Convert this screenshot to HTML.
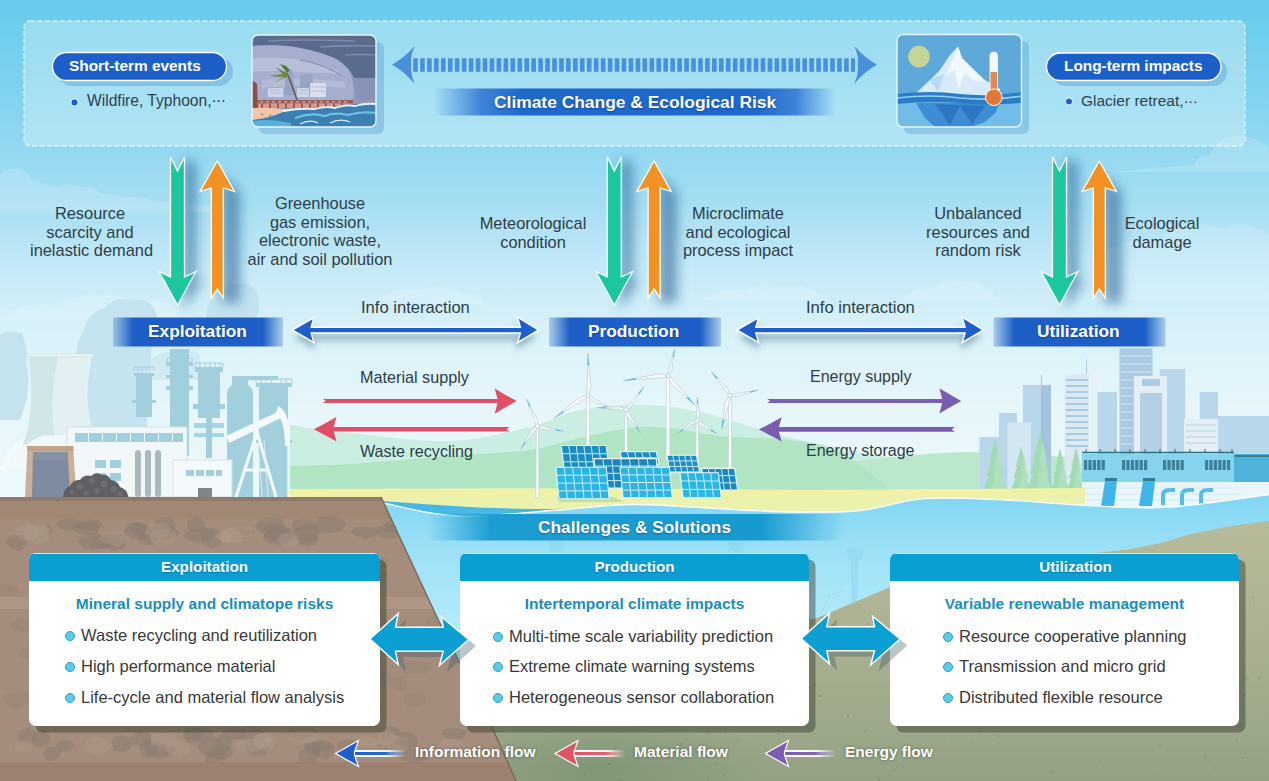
<!DOCTYPE html>
<html><head><meta charset="utf-8">
<style>
*{margin:0;padding:0;box-sizing:border-box}
html,body{width:1269px;height:781px;overflow:hidden;background:#e9f7fb}
body{font-family:"Liberation Sans",sans-serif;position:relative}
#bg{position:absolute;left:0;top:0}
.t{position:absolute;white-space:nowrap;line-height:1}
.lbl{position:absolute;font-size:16.4px;color:#2e3e48;text-align:center;line-height:18.5px;white-space:nowrap}
.pill{position:absolute;color:#fff;font-weight:bold;font-size:15.4px;white-space:nowrap}
.ban{position:absolute;color:#fff;font-weight:bold;font-size:17.3px;white-space:nowrap;text-shadow:0 1px 2px rgba(0,40,90,.45)}
.card{position:absolute;top:553px;width:351px;height:173px;background:#fff;border-radius:7px;overflow:hidden;box-shadow:6.5px 6.5px 0 rgba(45,55,40,.44)}
.card .hd{height:27.5px;background:#0a9fd3;box-shadow:inset 0 1px 0 rgba(220,246,252,.9);color:#fff;font-weight:bold;font-size:15.2px;text-align:center;line-height:27.5px;text-shadow:0 1px 1px rgba(0,50,90,.35)}
.card .sub{position:absolute;left:0;width:100%;top:42.3px;text-align:center;color:#1b8eba;font-weight:bold;font-size:15.5px}
.card .li{position:absolute;font-size:16.5px;color:#383838;white-space:nowrap}
.card .li:before{content:"";position:absolute;left:-16px;top:5px;width:8px;height:8px;border-radius:50%;background:#5dcbea;border:1px solid #2a9cc4}
.leg{position:absolute;top:743px;color:#fff;font-weight:bold;font-size:15.5px;white-space:nowrap;text-shadow:0 0 3px rgba(40,40,30,.6)}
</style></head>
<body>
<svg id="bg" width="1269" height="781" viewBox="0 0 1269 781">
<defs>
 <linearGradient id="sky" x1="0" y1="0" x2="0" y2="1">
  <stop offset="0" stop-color="#66cbec"/>
  <stop offset="0.19" stop-color="#92d8f1"/>
  <stop offset="0.26" stop-color="#a6def3"/>
  <stop offset="0.34" stop-color="#c3e9f7"/>
  <stop offset="0.42" stop-color="#d8f1f9"/>
  <stop offset="0.52" stop-color="#e6f6fb"/>
  <stop offset="0.65" stop-color="#eef9fc"/>
  <stop offset="1" stop-color="#eef9fc"/>
 </linearGradient>
 <linearGradient id="ban" x1="0" y1="0" x2="1" y2="0">
  <stop offset="0" stop-color="#2a78d4" stop-opacity="0"/>
  <stop offset="0.12" stop-color="#2a72d2" stop-opacity="0.85"/>
  <stop offset="0.22" stop-color="#1f68cc"/>
  <stop offset="0.8" stop-color="#1f68cc"/>
  <stop offset="0.9" stop-color="#2a72d2" stop-opacity="0.85"/>
  <stop offset="1" stop-color="#2a78d4" stop-opacity="0"/>
 </linearGradient>
 <linearGradient id="ban2" x1="0" y1="0" x2="1" y2="0">
  <stop offset="0" stop-color="#1f62c6" stop-opacity="0.25"/>
  <stop offset="0.12" stop-color="#1d5fc6"/>
  <stop offset="0.88" stop-color="#1d5fc6"/>
  <stop offset="1" stop-color="#1f62c6" stop-opacity="0.25"/>
 </linearGradient>
 <linearGradient id="chal" x1="0" y1="0" x2="1" y2="0">
  <stop offset="0" stop-color="#179ad0" stop-opacity="0"/>
  <stop offset="0.15" stop-color="#179ad0" stop-opacity="0.95"/>
  <stop offset="0.8" stop-color="#179ad0"/>
  <stop offset="1" stop-color="#179ad0" stop-opacity="0"/>
 </linearGradient>
 <linearGradient id="water" x1="0" y1="0" x2="0" y2="1">
  <stop offset="0" stop-color="#80d6f3"/>
  <stop offset="0.2" stop-color="#9de1f7"/>
  <stop offset="0.45" stop-color="#b2eaf9"/>
  <stop offset="1" stop-color="#c6f0fb"/>
 </linearGradient>
 <linearGradient id="sand" x1="0" y1="0" x2="0" y2="1">
  <stop offset="0" stop-color="#b8bb9a"/>
  <stop offset="0.35" stop-color="#aeb393"/>
  <stop offset="0.7" stop-color="#a0ab8c"/>
  <stop offset="1" stop-color="#93a284"/>
 </linearGradient>
 <filter id="sh" x="-50%" y="-30%" width="200%" height="160%"><feGaussianBlur stdDeviation="3"/></filter>
 <filter id="sh2" x="-100%" y="-30%" width="300%" height="160%"><feGaussianBlur stdDeviation="6"/></filter>
</defs>
<rect width="1269" height="781" fill="url(#sky)"/>

<!-- top dashed box -->
<rect x="24" y="21" width="1221" height="125" rx="6" fill="#ffffff" fill-opacity="0.3" stroke="#ffffff" stroke-opacity="0.7" stroke-width="1.3" stroke-dasharray="5 2.5"/>

<!-- pills -->
<rect x="58" y="57" width="175" height="29" rx="14.5" fill="#5a9fcf" fill-opacity="0.45"/>
<rect x="52.5" y="52.5" width="174" height="28" rx="14" fill="#1d5fc9" stroke="#fff" stroke-width="1.3"/>
<circle cx="74.5" cy="102.5" r="3.6" fill="#1d5fc9" stroke="#fff" stroke-width="0.9"/>
<rect x="1052" y="58" width="175" height="28" rx="14" fill="#5a9fcf" fill-opacity="0.45"/>
<rect x="1046.5" y="53" width="174.5" height="27.5" rx="13.75" fill="#1d5fc9" stroke="#fff" stroke-width="1.3"/>
<circle cx="1069" cy="101.5" r="3.6" fill="#1d5fc9" stroke="#fff" stroke-width="0.9"/>

<!-- typhoon image -->
<rect x="259" y="42" width="125" height="92" rx="6" fill="#5a9fcf" fill-opacity="0.4"/>
<clipPath id="cpT"><rect x="252" y="35" width="124" height="92" rx="6"/></clipPath>
<g clip-path="url(#cpT)">
 <rect x="252" y="35" width="124" height="92" fill="#5b6b8d"/>
 <path d="M268 41 Q 300 39 355 41 M 320 47 Q 345 45 375 46 M 345 55 Q 360 54 376 55" stroke="#7d8bab" stroke-width="1.6" fill="none"/>
 <path d="M252 46 Q 280 44 300 48 Q 325 53 338 60 Q 350 68 354 78 L 376 78 L376 112 L252 112Z" fill="#8d98b9"/>
 <path d="M252 46 Q 280 44 300 48 Q 325 53 338 60 Q 350 68 352 78 Q 356 90 352 104 L252 104Z" fill="#a5aecd"/>
 <path d="M252 58 Q 290 56 320 64 Q 335 68 340 74 L 300 72 Q 270 70 252 72Z" fill="#b6bed9"/>
 <path d="M262 80 Q 300 76 345 82 L 345 88 Q 300 84 262 88Z" fill="#b3bbd7"/>
 <path d="M300 60 Q 325 64 342 76" stroke="#8f9abb" stroke-width="1.5" fill="none"/>
 <path d="M285 72 L 292 70 L 296 95 L 285 95Z M 300 76 L 312 74 L 314 95 L 300 95Z" fill="#97a3c4"/>
 <rect x="268" y="88" width="15" height="9" fill="#cfd6ea"/>
 <rect x="297" y="88" width="12" height="9" fill="#cfd6ea"/>
 <rect x="310" y="83" width="16" height="14" fill="#d9dfef"/>
 <path d="M270 90 h12 M270 93 h12 M298 90 h10 M298 93 h10 M311 87 h14 M311 91 h14" stroke="#aab4d2" stroke-width="0.8"/>
 <path d="M252 80 L257 84 L258 110 L252 110Z" fill="#8a4f45"/>
 <path d="M287 73 Q 292 85 298 103" stroke="#6a5650" stroke-width="1.6" fill="none"/>
 <path d="M287 73 L275 67 L283 74 L269 76 L284 77 L273 83 L289 76Z" fill="#6b8a3a"/>
 <path d="M287 73 L280 64 L286 66 L290 70Z" fill="#5a7a30"/>
 <rect x="258" y="100" width="95" height="3.6" fill="#9b5b56"/>
 <path d="M260 101.8 h3 M266 101.8 h3 M272 101.8 h3 M278 101.8 h3 M284 101.8 h3 M290 101.8 h3 M296 101.8 h3 M302 101.8 h3 M308 101.8 h3 M314 101.8 h3 M320 101.8 h3 M326 101.8 h3 M332 101.8 h3 M338 101.8 h3 M344 101.8 h3" stroke="#c99d96" stroke-width="1.4"/>
 <rect x="258" y="103.6" width="95" height="4.6" fill="#d39b8d"/>
 <path d="M262 103.6 v4.6 M270 103.6 v4.6 M278 103.6 v4.6 M286 103.6 v4.6 M294 103.6 v4.6 M302 103.6 v4.6 M310 103.6 v4.6 M318 103.6 v4.6 M326 103.6 v4.6 M334 103.6 v4.6 M342 103.6 v4.6 M350 103.6 v4.6" stroke="#8a4a45" stroke-width="1.6"/>
 <path d="M252 108 Q 270 107 292 110 L 296 118 Q 275 121 252 121Z" fill="#f2c6a8"/>
 <path d="M262 113 a1.5 1.5 0 1 0 0.1 0 M 270 114 a1.5 1.5 0 1 0 0.1 0" fill="#9fb48e"/>
 <path d="M283 112 Q 305 106 330 108 Q 350 103 376 104 L376 127 L252 127 L252 120 Q 270 118 283 112Z" fill="#3b7fb3"/>
 <path d="M283 111 Q 300 108 315 109 Q 325 106 335 108 Q 345 104 355 106 Q 365 103 376 104" stroke="#eaf5fb" stroke-width="1.8" fill="none"/>
 <path d="M295 118 Q 310 112 325 116 Q 335 112 348 115 Q 360 111 376 113" stroke="#6cc2e2" stroke-width="2.2" fill="none"/>
 <path d="M300 124 Q 310 119 318 123 M 330 123 Q 340 118 350 122" stroke="#dff1f9" stroke-width="1.2" fill="none"/>
 <path d="M252 121 Q 270 118 290 123 L 292 127 L252 127Z" fill="#5bb0d8"/>
 <path d="M352 78 L 376 78 L 376 100 L 358 100Z" fill="#8893b5"/>
</g>
<rect x="252" y="35" width="124" height="92" rx="6" fill="none" stroke="#e8f7fd" stroke-width="1.4"/>

<!-- iceberg image -->
<rect x="904" y="41" width="125" height="93" rx="6" fill="#5a9fcf" fill-opacity="0.4"/>
<clipPath id="cpI"><rect x="897" y="34.5" width="124.5" height="92.5" rx="6"/></clipPath>
<g clip-path="url(#cpI)">
 <rect x="897" y="34" width="125" height="93" fill="#5ea9d9"/>
 <circle cx="919" cy="56.6" r="10.8" fill="#c8d398"/>
 <path d="M915 94 L 930 80 L 940 70 L 950 55 L 958 46.5 L 962 58 L 972 68 L 985 80 L 1000 89 L 1000 96 L 915 96Z" fill="#d8ebfa"/>
 <path d="M958 46.5 L 952 62 L 946 75 L 955 70 L 958 90 L 965 72 L 972 80 L 985 82 L 972 68 L 962 58Z" fill="#f2f9fe"/>
 <path d="M930 80 L 938 92 L 944 74Z" fill="#b9d8f2"/>
 <rect x="897" y="103" width="125" height="24" fill="#72bde8"/>
 <path d="M916 103 L 1000 103 L 995 113 L 985 122 L 970 127 L 935 127 L 925 118Z" fill="#3c8dd4"/>
 <path d="M935 104 L 950 125 L 960 106 L 972 124 L 985 106Z" fill="#2c76c2"/>
 <path d="M897 94 Q 930 90 960 94 Q 990 97 1022 92 L1022 103 Q 990 106 960 103 Q 930 100 897 104Z" fill="#2a7cc8"/>
 <path d="M897 98 Q 930 94 960 98 Q 990 101 1022 96" stroke="#8fd2f2" stroke-width="1.6" fill="none"/>
 <rect x="990" y="52" width="7.5" height="45" rx="3.75" fill="#f4f8fb" stroke="#fff" stroke-width="0.8"/>
 <rect x="990.5" y="72" width="6.5" height="24" fill="#e08a52"/>
 <circle cx="993.8" cy="97.3" r="8.3" fill="#e0783a" stroke="#fff" stroke-width="1"/>
</g>
<rect x="897" y="34.5" width="124.5" height="92.5" rx="6" fill="none" stroke="#e8f7fd" stroke-width="1.4"/>

<!-- dotted arrow -->
<line x1="413.2" y1="65" x2="855" y2="65" stroke="#4a90d9" stroke-width="13.4" stroke-dasharray="4.6 2.35"/>
<path d="M392 64.7 Q 404 58 414.8 46 Q 410 56 411.3 64.7 Q 410 73 414.8 84 Q 404 71 392 64.7Z" fill="#4a90d9"/>
<path d="M877 64.7 Q 865 58 854.2 46 Q 859 56 857.7 64.7 Q 859 73 854.2 84 Q 865 71 877 64.7Z" fill="#4a90d9"/>

<!-- climate banner -->
<rect x="433" y="88.5" width="403" height="27" fill="url(#ban)"/>

<!-- clouds -->
<g fill="#ffffff" fill-opacity="0.16">
 <path d="M0 212 L0 175 Q 4 168 15 169 Q 28 168 31 179 Q 42 183 55 187 Q 70 183 82 187 Q 95 186 101 194 Q 115 193 126 197 Q 142 196 152 201 Q 175 203 210 206 L 210 212 Z"/>
 <path d="M1115 172 Q 1150 168 1195 165 Q 1196 155 1210 155 Q 1215 140 1232 136 Q 1250 134 1262 143 Q 1269 143 1269 150 L1269 172 Z"/>
 <path d="M700 300 Q 720 288 745 290 Q 760 280 780 286 Q 800 282 815 292 L 830 300Z M 900 300 Q 915 285 935 288 Q 945 276 962 282 Q 985 280 995 296 L 1000 300Z"/>
 <path d="M1100 260 Q 1120 235 1160 240 Q 1180 215 1220 228 Q 1250 220 1269 235 L1269 300 L1100 300Z"/>
 <path d="M0 320 Q 20 300 60 305 Q 90 285 130 300 Q 170 295 190 320 Z"/>
 <path d="M380 300 Q 395 285 420 290 Q 440 280 460 292 Q 480 292 485 305Z"/>
</g>
<g fill="#bfe1ed" fill-opacity="0.85">
 <path d="M72 445 Q 70 400 76 370 Q 74 345 84 330 Q 88 312 104 308 Q 116 296 134 300 Q 152 298 156 314 Q 162 330 152 345 Q 150 370 146 400 L 148 445Z"/>
 <path d="M0 335 Q 12 328 22 334 Q 28 345 26 362 Q 30 380 27 398 Q 24 410 20 420 L0 420Z"/>
 <path d="M206 330 Q 204 306 214 296 Q 222 282 240 284 Q 256 282 258 298 Q 262 312 252 322 Q 245 332 230 332Z"/>
 <path d="M150 360 Q 160 350 175 352 Q 190 345 200 355 L 200 380 L150 380Z" fill-opacity="0.5"/>
</g>
<g fill="#ffffff" fill-opacity="0.5">
 <path d="M0 470 Q 10 440 30 436 Q 45 425 65 430 Q 85 425 100 438 Q 115 445 118 470Z"/>
</g>
<!-- hills -->
<path d="M290 425 C300.0 426.3 323.3 430.3 350 433 C376.7 435.7 420.0 442.0 450 441 C480.0 440.0 508.3 432.2 530 427 C551.7 421.8 561.7 413.7 580 410 C598.3 406.3 620.0 404.7 640 405 C660.0 405.3 673.3 406.2 700 412 C726.7 417.8 766.7 432.3 800 440 C833.3 447.7 866.7 455.0 900 458 C933.3 461.0 966.7 458.0 1000 458 C1033.3 458.0 1083.3 458.0 1100 458 L1100 500 L290 500Z" fill="#cbeee3"/>
<path d="M850 462 Q 900 455 961 452 Q 1000 453 1090 458 L1090 498 L850 498Z" fill="#b9e8ca"/>
<path d="M290 466 C300.0 465.7 323.3 465.7 350 464 C376.7 462.3 420.0 458.3 450 456 C480.0 453.7 508.3 453.0 530 450 C551.7 447.0 563.3 441.7 580 438 C596.7 434.3 615.0 429.7 630 428 C645.0 426.3 655.0 426.7 670 428 C685.0 429.3 700.0 434.0 720 436 C740.0 438.0 770.0 437.3 790 440 C810.0 442.7 822.8 443.3 840 452 C857.2 460.7 884.2 485.3 893 492 L290 492Z" fill="#b0e4c2"/>
<path d="M290 480 Q 450 476 600 470 L 600 492 L290 492Z" fill="#b3e4c4" fill-opacity="0.6"/>
<path d="M1180 455 Q 1230 435 1269 430 L1269 500 L1180 500Z" fill="#b5e5c3"/>
<!-- city -->
<g fill="#b9d7ea">
 <rect x="979.5" y="437" width="30" height="60"/>
 <rect x="999" y="413" width="18" height="84"/>
 <rect x="1023" y="385" width="28" height="112"/>
 <rect x="1096" y="392" width="21" height="105"/>
 <rect x="1159.7" y="369" width="25.5" height="128"/>
 <rect x="1199.8" y="392" width="18.2" height="105"/>
 <rect x="1218" y="416" width="51" height="81"/>
</g>
<rect x="1041" y="375" width="1" height="10" fill="#a8c8dc"/>
<rect x="1041" y="385" width="10" height="112" fill="#a2c4dc"/>
<rect x="1007.5" y="422.5" width="23" height="75" fill="#d4e6f1"/>
<rect x="1064.7" y="374" width="24.3" height="123" fill="#dce9f3"/>
<path d="M1066 380 h22 M1066 386 h22 M1066 392 h22 M1066 398 h22 M1066 404 h22 M1066 410 h22 M1066 416 h22 M1066 422 h22 M1066 428 h22 M1066 434 h22 M1066 440 h22 M1066 446 h22" stroke="#a9cbe2" stroke-width="2.2"/>
<rect x="1086" y="359" width="1" height="15" fill="#b0cde0"/>
<rect x="1089" y="369" width="8.6" height="128" fill="#e6f0f7"/>
<rect x="1119.5" y="348.3" width="33" height="149" fill="#aacbe2"/>
<path d="M1121 356 h30 M1121 364 h30 M1121 372 h30 M1121 380 h30 M1121 388 h30 M1121 396 h30 M1121 404 h30 M1121 412 h30 M1121 420 h30 M1121 428 h30 M1121 436 h30 M1121 444 h30" stroke="#c3dbec" stroke-width="1.6"/>
<rect x="1134" y="376" width="33" height="121" fill="#e3eef6"/>
<rect x="1140" y="393" width="22" height="104" fill="#b2cfe4"/>
<rect x="1142" y="379" width="18" height="7" fill="#aacbe2"/>
<rect x="1184" y="419" width="34" height="78" fill="#e3eef6"/>
<path d="M1186 425 h30 M1186 431 h30 M1186 437 h30 M1186 443 h30" stroke="#c9dcea" stroke-width="1.5"/>

<!-- trees -->
<path d="M995 438.0 L1000.4 462.3 L989.6 462.3Z M995 448.8 L1003.4 475.8 L986.6 475.8Z M995 460.7 L1007.0 492.0 L983.0 492.0Z M1021 446.0 L1026.0 466.7 L1016.0 466.7Z M1021 455.2 L1028.7 478.2 L1013.3 478.2Z M1021 465.3 L1032.0 492.0 L1010.0 492.0Z M1040 432.0 L1046.3 459.0 L1033.7 459.0Z M1040 444.0 L1049.8 474.0 L1030.2 474.0Z M1040 457.2 L1054.0 492.0 L1026.0 492.0Z M1060 448.0 L1064.5 467.8 L1055.5 467.8Z M1060 456.8 L1067.0 478.8 L1053.0 478.8Z M1060 466.5 L1070.0 492.0 L1050.0 492.0Z M1076 447.0 L1080.5 467.2 L1071.5 467.2Z M1076 456.0 L1083.0 478.5 L1069.0 478.5Z M1076 465.9 L1086.0 492.0 L1066.0 492.0Z" fill="#a2dab3"/>
<path d="M998 446.0 L1001.2 466.7 L994.8 466.7Z M998 455.2 L1003.0 478.2 L993.0 478.2Z M998 465.3 L1005.2 492.0 L990.8 492.0Z M1024 454.0 L1027.0 471.1 L1021.0 471.1Z M1024 461.6 L1028.6 480.6 L1019.4 480.6Z M1024 470.0 L1030.6 492.0 L1017.4 492.0Z M1043 440.0 L1046.8 463.4 L1039.2 463.4Z M1043 450.4 L1048.9 476.4 L1037.1 476.4Z M1043 461.8 L1051.4 492.0 L1034.6 492.0Z M1063 456.0 L1065.7 472.2 L1060.3 472.2Z M1063 463.2 L1067.2 481.2 L1058.8 481.2Z M1063 471.1 L1069.0 492.0 L1057.0 492.0Z M1079 455.0 L1081.7 471.6 L1076.3 471.6Z M1079 462.4 L1083.2 480.9 L1074.8 480.9Z M1079 470.5 L1085.0 492.0 L1073.0 492.0Z" fill="#b4e3c3" fill-opacity="0.7"/>

<!-- dam -->
<rect x="1082" y="454" width="187" height="28" fill="#86d3ee"/>
<rect x="1234" y="454" width="35" height="28" fill="#4eb2db"/>
<path d="M1082 452.5 H1234 M1235 456 H1269" stroke="#2d6f7a" stroke-width="1.4"/>
<path d="M1086 449 v4 M1100 449 v4 M1115 449 v4 M1130 449 v4 M1145 449 v4 M1160 449 v4 M1175 449 v4 M1190 449 v4 M1205 449 v4 M1220 449 v4 M1232 449 v4" stroke="#2d6f7a" stroke-width="1"/>
<g fill="#3e7f9a"><rect x="1084.0" y="460" width="3.2" height="10"/><rect x="1088.4" y="460" width="3.2" height="10"/><rect x="1092.8" y="460" width="3.2" height="10"/><rect x="1097.2" y="460" width="3.2" height="10"/><rect x="1101.6" y="460" width="3.2" height="10"/><rect x="1122.0" y="460" width="3.2" height="10"/><rect x="1126.4" y="460" width="3.2" height="10"/><rect x="1130.8" y="460" width="3.2" height="10"/><rect x="1135.2" y="460" width="3.2" height="10"/><rect x="1139.6" y="460" width="3.2" height="10"/><rect x="1144.0" y="460" width="3.2" height="10"/><rect x="1163.0" y="460" width="3.2" height="10"/><rect x="1167.4" y="460" width="3.2" height="10"/><rect x="1171.8" y="460" width="3.2" height="10"/><rect x="1176.2" y="460" width="3.2" height="10"/><rect x="1180.6" y="460" width="3.2" height="10"/><rect x="1205.0" y="460" width="3.2" height="10"/><rect x="1209.4" y="460" width="3.2" height="10"/><rect x="1213.8" y="460" width="3.2" height="10"/><rect x="1218.2" y="460" width="3.2" height="10"/><rect x="1222.6" y="460" width="3.2" height="10"/><rect x="1227.0" y="460" width="3.2" height="10"/></g>
<path d="M1082 482 H1269 V506 Q 1180 508 1082 506Z" fill="#e9f6fb"/>
<path d="M1082 488 H1240 M1082 494 H1240 M1082 500 H1240" stroke="#cde6f0" stroke-width="0.8"/>
<rect x="1105" y="478" width="12" height="3" fill="#2d7c98"/><rect x="1143" y="478" width="12" height="3" fill="#2d7c98"/>
<path d="M1105 481 L1117 481 L1114 506 L1101 506Z" fill="#3fb6ea"/>
<path d="M1143 481 L1155 481 L1152 506 L1139 506Z" fill="#3fb6ea"/>
<g fill="none" stroke="#55bde6" stroke-width="4">
 <path d="M1163 505 V495 Q1163 490 1170 490 H1175"/><path d="M1182 505 V495 Q1182 490 1189 490 H1194"/><path d="M1201 505 V495 Q1201 490 1208 490 H1213"/>
</g>

<!-- industry -->
<path d="M29 356 L92 356 Q 86 385 88 405 Q 90 425 97 445 L 23 445 Q 30 425 31 405 Q 32 385 29 356Z" fill="#e2f0f3"/>
<path d="M29 356 L58 356 Q 52 385 52 405 Q 52 425 56 445 L 23 445 Q 30 425 31 405 Q 32 385 29 356Z" fill="#d2e5e8"/>
<rect x="27" y="354" width="66" height="2.5" fill="#eef7f9" stroke="#c8dde2" stroke-width="0.6"/>
<path d="M5 470 Q 12 448 28 444 Q 40 432 58 436 Q 75 430 92 440 Q 108 446 112 470Z" fill="#f2f8fa"/>
<g fill="#a1d0dc">
 <rect x="136" y="376" width="16" height="41"/><rect x="134" y="373" width="20" height="3"/><rect x="132" y="400" width="24" height="3"/>
 <rect x="170" y="349" width="19" height="107"/><rect x="166" y="362" width="27" height="4"/><rect x="166" y="375" width="27" height="3"/><rect x="166" y="386" width="27" height="4"/>
 <rect x="198" y="372" width="22" height="84"/><rect x="195" y="367" width="28" height="5"/><rect x="193" y="404" width="32" height="5"/>
 <path d="M227 497 V394 Q 227 388 232 385 V376 H 248 V385 Q 253 388 253 394 V497Z"/>
 <rect x="248" y="376" width="30" height="4"/>
 <rect x="259" y="386" width="29" height="111"/><rect x="256" y="383" width="36" height="4"/><rect x="256" y="440" width="36" height="3"/>
</g>
<g stroke="#a1d0dc" stroke-width="1" fill="none">
 <path d="M134 370 v-3 h20 v3 M138 370 v-3 M142 370 v-3 M146 370 v-3 M150 370 v-3"/>
 <path d="M167 362 v-4 h25 v4 M172 362 v-4 M177 362 v-4 M182 362 v-4 M187 362 v-4"/>
 <path d="M195 367 v-4 h28 v4 M200 367 v-4 M205 367 v-4 M210 367 v-4 M215 367 v-4 M220 367 v-4"/>
 <path d="M256 383 v-4 h36 v4 M261 383 v-4 M266 383 v-4 M271 383 v-4 M281 383 v-4 M286 383 v-4"/>
</g>
<rect x="194" y="418" width="30" height="40" fill="#eaf6f9"/>
<rect x="194" y="423" width="30" height="5" fill="#9fd9e6"/><rect x="194" y="433" width="30" height="4" fill="#9fd9e6"/>
<rect x="206" y="418" width="6" height="40" fill="#a1d0dc"/>
<path d="M67 427 H187 V497 H67Z" fill="#f2f8fa" stroke="#d5e2e6" stroke-width="1"/>
<g fill="#9fd0dc"><rect x="75" y="433" width="13" height="9"/><rect x="89" y="433" width="13" height="9"/><rect x="103" y="433" width="13" height="9"/><rect x="117" y="433" width="13" height="9"/><rect x="131" y="433" width="13" height="9"/><rect x="145" y="433" width="13" height="9"/><rect x="159" y="433" width="13" height="9"/><rect x="173" y="433" width="10" height="9"/>
<rect x="95" y="460" width="11" height="8"/><rect x="110" y="460" width="11" height="8"/><rect x="95" y="473" width="11" height="8"/><rect x="110" y="473" width="11" height="8"/></g>
<g fill="#a9b9bd"><rect x="135" y="450" width="6" height="47" rx="3"/><rect x="145" y="450" width="6" height="47" rx="3"/><rect x="155" y="450" width="6" height="47" rx="3"/></g>
<rect x="173" y="460" width="59" height="37" fill="#f4f9fb" stroke="#d5e2e6" stroke-width="1"/>
<g fill="#9fd0dc"><rect x="186" y="470" width="8" height="6"/><rect x="196" y="470" width="8" height="6"/><rect x="206" y="470" width="8" height="6"/><rect x="216" y="470" width="6" height="6"/></g>
<rect x="198" y="488" width="14" height="9" fill="#7d878a"/>
<!-- pump jack -->
<g fill="none" stroke="#f4fafc" stroke-width="3">
 <path d="M236 497 L257 432 L276 497"/><path d="M246 470 H 268"/>
</g>
<path d="M226 436 L 282 410 L 285 416 L 229 443Z" fill="#f4fafc"/>
<path d="M278 406 Q 291 412 290 446 L 285 446 Q 285 420 276 413Z" fill="#f4fafc"/>
<path d="M288 446 V497" stroke="#e8f2f5" stroke-width="1.5"/>
<path d="M258 440 L 262 497 M 264 440 L 268 497" stroke="#d8ecf1" stroke-width="1"/>
<!-- mine -->
<path d="M27.5 446 L73 446 L76.5 497 L25 497Z" fill="#cbb095"/>
<path d="M33 452 L67.5 452 L70.5 497 L32 497Z" fill="#7e8ba0"/>
<path d="M33 452 L67.5 452 L68 460 L33 460Z" fill="#8592a6"/>
<path d="M27 446 L73.5 446 L73.5 451 L27 451Z" fill="#c2a387"/>
<!-- coal -->
<path d="M63 497 Q 64 488 70 486 Q 73 479 80 480 Q 84 474 91 476 Q 96 471 102 475 Q 108 474 111 480 Q 118 481 120 487 Q 127 489 128.5 497Z" fill="#5f5f64"/>
<g fill="#74747a" fill-opacity="0.7"><circle cx="80" cy="486" r="3"/><circle cx="92" cy="481" r="3"/><circle cx="104" cy="484" r="3.5"/><circle cx="114" cy="489" r="3"/><circle cx="72" cy="492" r="2.5"/><circle cx="97" cy="491" r="3"/><circle cx="86" cy="493" r="2.5"/><circle cx="120" cy="494" r="2.5"/></g>

<path d="M290 489 Q 600 487 800 490 Q 950 489 1085 488 L1085 520 L290 520Z" fill="#eff2a6"/>
<path d="M300 497 Q 600 496 850 497 Q 950 497 1085 496 L1085 520 L300 520Z" fill="#e6f1b4" fill-opacity="0.6"/>
<!-- wind turbines -->
<path d="M536.3 426 L538.5 426 L538.9 498 L535.9 498Z" fill="#fbfdfe" stroke="#c2d2da" stroke-width="0.7"/>
<path d="M586.5 395.5 L589.3 395.5 L589.7 455 L586.1 455Z" fill="#fbfdfe" stroke="#c2d2da" stroke-width="0.7"/>
<path d="M624.9 409.6 L627.1 409.6 L627.5 455 L624.5 455Z" fill="#fbfdfe" stroke="#c2d2da" stroke-width="0.7"/>
<path d="M666.4 376 L669.6 376 L670.0 460 L666.0 460Z" fill="#fbfdfe" stroke="#c2d2da" stroke-width="0.7"/>
<path d="M696.2 420.5 L698.4 420.5 L698.8 470 L695.8 470Z" fill="#fbfdfe" stroke="#c2d2da" stroke-width="0.7"/>
<path d="M728.7 395.5 L731.3 395.5 L731.7 470 L728.3 470Z" fill="#fbfdfe" stroke="#c2d2da" stroke-width="0.7"/>
<path d="M537.5 423.8 L537.2 419.2 L526.5 399.1 L534.5 420.3 L535.8 424.5Z" fill="#ffffff" stroke="#b7c9d4" stroke-width="0.7" stroke-linejoin="round"/>
<path d="M530.6 406.2 L526.5 399.1 L529.3 406.8Z" fill="#5ab5dd"/>
<path d="M539.2 427.3 L542.8 429.5 L563.9 431.2 L543.3 426.5 L539.5 425.4Z" fill="#ffffff" stroke="#b7c9d4" stroke-width="0.7" stroke-linejoin="round"/>
<path d="M556.3 430.8 L563.9 431.2 L556.5 429.4Z" fill="#5ab5dd"/>
<path d="M535.4 427.1 L531.8 429.6 L520.9 448.7 L534.3 431.3 L537.0 428.2Z" fill="#ffffff" stroke="#b7c9d4" stroke-width="0.7" stroke-linejoin="round"/>
<path d="M524.7 441.7 L520.9 448.7 L525.8 442.5Z" fill="#5ab5dd"/>
<circle cx="537.4" cy="426" r="2" fill="#fff" stroke="#b7c9d4" stroke-width="0.7"/>
<path d="M589.1 393.5 L590.9 386.3 L587.9 353.5 L587.1 386.3 L586.7 393.5Z" fill="#ffffff" stroke="#b7c9d4" stroke-width="0.7" stroke-linejoin="round"/>
<path d="M589.2 365.3 L587.9 353.5 L587.5 365.3Z" fill="#5ab5dd"/>
<path d="M589.2 397.3 L592.0 400.7 L612.1 409.5 L593.5 398.1 L590.1 395.7Z" fill="#ffffff" stroke="#b7c9d4" stroke-width="0.7" stroke-linejoin="round"/>
<path d="M604.8 406.5 L612.1 409.5 L605.5 405.3Z" fill="#5ab5dd"/>
<path d="M585.6 395.6 L578.7 398.1 L553.9 418.4 L580.8 401.2 L586.9 397.6Z" fill="#ffffff" stroke="#b7c9d4" stroke-width="0.7" stroke-linejoin="round"/>
<path d="M562.7 410.9 L553.9 418.4 L563.7 412.3Z" fill="#5ab5dd"/>
<circle cx="587.9" cy="395.5" r="2" fill="#fff" stroke="#b7c9d4" stroke-width="0.7"/>
<path d="M628.0 408.6 L631.8 406.1 L643.9 386.7 L629.5 404.2 L626.5 407.4Z" fill="#ffffff" stroke="#b7c9d4" stroke-width="0.7" stroke-linejoin="round"/>
<path d="M639.7 393.8 L643.9 386.7 L638.6 392.9Z" fill="#5ab5dd"/>
<path d="M624.1 408.5 L619.8 406.8 L597.1 407.6 L619.6 409.8 L623.9 410.4Z" fill="#ffffff" stroke="#b7c9d4" stroke-width="0.7" stroke-linejoin="round"/>
<path d="M605.2 407.1 L597.1 407.6 L605.1 408.5Z" fill="#5ab5dd"/>
<path d="M626.2 411.8 L627.2 416.1 L640.8 433.3 L629.8 414.5 L627.9 410.8Z" fill="#ffffff" stroke="#b7c9d4" stroke-width="0.7" stroke-linejoin="round"/>
<path d="M635.8 427.3 L640.8 433.3 L637.0 426.5Z" fill="#5ab5dd"/>
<circle cx="626" cy="409.6" r="2" fill="#fff" stroke="#b7c9d4" stroke-width="0.7"/>
<path d="M669.4 374.3 L671.8 370.6 L674.8 348.8 L668.9 369.9 L667.6 373.8Z" fill="#ffffff" stroke="#b7c9d4" stroke-width="0.7" stroke-linejoin="round"/>
<path d="M673.9 356.7 L674.8 348.8 L672.6 356.4Z" fill="#5ab5dd"/>
<path d="M665.9 375.0 L657.8 374.1 L623.2 380.7 L658.2 377.8 L666.1 377.4Z" fill="#ffffff" stroke="#b7c9d4" stroke-width="0.7" stroke-linejoin="round"/>
<path d="M635.6 378.0 L623.2 380.7 L635.8 379.8Z" fill="#5ab5dd"/>
<path d="M668.5 378.3 L671.8 384.5 L695.3 405.3 L674.6 381.9 L670.2 376.6Z" fill="#ffffff" stroke="#b7c9d4" stroke-width="0.7" stroke-linejoin="round"/>
<path d="M686.7 398.0 L695.3 405.3 L687.9 396.8Z" fill="#5ab5dd"/>
<circle cx="668" cy="376" r="2" fill="#fff" stroke="#b7c9d4" stroke-width="0.7"/>
<path d="M698.3 418.5 L699.7 415.3 L697.3 397.0 L696.7 415.3 L696.3 418.5Z" fill="#ffffff" stroke="#b7c9d4" stroke-width="0.7" stroke-linejoin="round"/>
<path d="M698.4 403.6 L697.3 397.0 L697.0 403.6Z" fill="#5ab5dd"/>
<path d="M695.1 420.8 L691.7 421.4 L677.7 433.7 L693.3 423.9 L696.2 422.4Z" fill="#ffffff" stroke="#b7c9d4" stroke-width="0.7" stroke-linejoin="round"/>
<path d="M682.6 429.1 L677.7 433.7 L683.4 430.3Z" fill="#5ab5dd"/>
<path d="M698.4 422.4 L700.3 425.4 L716.9 433.7 L701.9 422.9 L699.5 420.8Z" fill="#ffffff" stroke="#b7c9d4" stroke-width="0.7" stroke-linejoin="round"/>
<path d="M710.8 430.9 L716.9 433.7 L711.6 429.7Z" fill="#5ab5dd"/>
<circle cx="697.3" cy="420.5" r="2" fill="#fff" stroke="#b7c9d4" stroke-width="0.7"/>
<path d="M729.5 393.3 L727.8 388.8 L711.5 371.9 L725.5 390.7 L728.0 394.5Z" fill="#ffffff" stroke="#b7c9d4" stroke-width="0.7" stroke-linejoin="round"/>
<path d="M717.6 377.8 L711.5 371.9 L716.4 378.7Z" fill="#5ab5dd"/>
<path d="M732.1 396.1 L736.7 396.6 L758.5 390.0 L736.1 393.7 L731.8 394.2Z" fill="#ffffff" stroke="#b7c9d4" stroke-width="0.7" stroke-linejoin="round"/>
<path d="M750.7 392.6 L758.5 390.0 L750.4 391.2Z" fill="#5ab5dd"/>
<path d="M728.4 397.2 L725.2 402.2 L721.5 429.5 L728.9 403.2 L730.7 397.7Z" fill="#ffffff" stroke="#b7c9d4" stroke-width="0.7" stroke-linejoin="round"/>
<path d="M722.6 419.6 L721.5 429.5 L724.3 420.0Z" fill="#5ab5dd"/>
<circle cx="730" cy="395.5" r="2" fill="#fff" stroke="#b7c9d4" stroke-width="0.7"/>
<!-- solar panels -->
<path d="M556 497 L612 497 L625 502 L560 502Z" fill="#9fd39a" fill-opacity="0.6"/>
<path d="M561.3 445.5 L606.2 445.5 L609.2 470.0 L564.3 470.0Z" fill="#1b8dc2" stroke="#eaf8fd" stroke-width="1.1"/>
<path d="M568.8 445.5 L571.8 470.0 M576.3 445.5 L579.3 470.0 M583.8 445.5 L586.8 470.0 M591.2 445.5 L594.2 470.0 M598.7 445.5 L601.7 470.0 M562.3 453.7 L607.2 453.7 M563.3 461.8 L608.2 461.8" stroke="#dff4fb" stroke-width="0.9" fill="none"/>
<path d="M620.0 451.6 L656.2 451.6 L659.2 464.0 L623.0 464.0Z" fill="#1b8dc2" stroke="#eaf8fd" stroke-width="1.1"/>
<path d="M627.2 451.6 L630.2 464.0 M634.5 451.6 L637.5 464.0 M641.7 451.6 L644.7 464.0 M649.0 451.6 L652.0 464.0 M621.5 457.8 L657.7 457.8" stroke="#dff4fb" stroke-width="0.9" fill="none"/>
<path d="M666.9 455.3 L696.5 455.3 L699.5 472.0 L669.9 472.0Z" fill="#1b8dc2" stroke="#eaf8fd" stroke-width="1.1"/>
<path d="M672.8 455.3 L675.8 472.0 M678.7 455.3 L681.7 472.0 M684.7 455.3 L687.7 472.0 M690.6 455.3 L693.6 472.0 M667.9 460.9 L697.5 460.9 M668.9 466.4 L698.5 466.4" stroke="#dff4fb" stroke-width="0.9" fill="none"/>
<path d="M594.0 458.6 L656.2 458.6 L659.2 488.0 L597.0 488.0Z" fill="#1a86ba" stroke="#eaf8fd" stroke-width="1.1"/>
<path d="M602.9 458.6 L605.9 488.0 M611.8 458.6 L614.8 488.0 M620.7 458.6 L623.7 488.0 M629.5 458.6 L632.5 488.0 M638.4 458.6 L641.4 488.0 M647.3 458.6 L650.3 488.0 M594.8 466.0 L657.0 466.0 M595.5 473.3 L657.7 473.3 M596.2 480.6 L658.5 480.6" stroke="#dff4fb" stroke-width="0.9" fill="none"/>
<path d="M701.7 468.4 L734.6 468.4 L737.6 490.0 L704.7 490.0Z" fill="#1a89be" stroke="#eaf8fd" stroke-width="1.1"/>
<path d="M708.3 468.4 L711.3 490.0 M714.9 468.4 L717.9 490.0 M721.4 468.4 L724.4 490.0 M728.0 468.4 L731.0 490.0 M702.7 475.6 L735.6 475.6 M703.7 482.8 L736.6 482.8" stroke="#dff4fb" stroke-width="0.9" fill="none"/>
<path d="M555.9 467.3 L606.2 467.3 L609.2 498.8 L558.9 498.8Z" fill="#2bb5e2" stroke="#eaf8fd" stroke-width="1.1"/>
<path d="M564.3 467.3 L567.3 498.8 M572.7 467.3 L575.7 498.8 M581.0 467.3 L584.0 498.8 M589.4 467.3 L592.4 498.8 M597.8 467.3 L600.8 498.8 M556.6 475.2 L607.0 475.2 M557.4 483.1 L607.7 483.1 M558.1 490.9 L608.5 490.9" stroke="#dff4fb" stroke-width="0.9" fill="none"/>
<path d="M620.0 467.3 L669.3 467.3 L672.3 497.7 L623.0 497.7Z" fill="#2bb5e2" stroke="#eaf8fd" stroke-width="1.1"/>
<path d="M628.2 467.3 L631.2 497.7 M636.4 467.3 L639.4 497.7 M644.6 467.3 L647.6 497.7 M652.9 467.3 L655.9 497.7 M661.1 467.3 L664.1 497.7 M620.8 474.9 L670.0 474.9 M621.5 482.5 L670.8 482.5 M622.2 490.1 L671.5 490.1" stroke="#dff4fb" stroke-width="0.9" fill="none"/>
<path d="M680.0 472.7 L718.3 472.7 L721.3 497.7 L683.0 497.7Z" fill="#2bb5e2" stroke="#eaf8fd" stroke-width="1.1"/>
<path d="M687.7 472.7 L690.7 497.7 M695.3 472.7 L698.3 497.7 M703.0 472.7 L706.0 497.7 M710.6 472.7 L713.6 497.7 M681.0 481.0 L719.3 481.0 M682.0 489.4 L720.3 489.4" stroke="#dff4fb" stroke-width="0.9" fill="none"/>

<!-- ground -->

<path d="M383 501 C 420 504 450 506 480 507.5 C 520 509 560 510 600 508 L 640 506 L 640 540 L 383 540Z" fill="#47b7e5"/>
<path d="M383 503 C395.3 505.2 427.7 514.8 457 516 C486.3 517.2 529.3 511.9 559 510 C588.7 508.1 604.8 504.5 635 504.5 C665.2 504.5 713.0 508.8 740 510 C767.0 511.2 777.0 511.9 797 512 C817.0 512.1 838.8 512.8 860 510.6 C881.2 508.4 900.3 500.5 924.5 498.7 C948.7 496.9 979.2 498.9 1005 500 C1030.8 501.1 1052.2 503.8 1079 505 C1105.8 506.2 1134.3 509.1 1166 507.4 C1197.7 505.6 1251.8 496.6 1269 494.5 L1269 781 L383 781Z" fill="url(#water)"/>
<path d="M383 503 C395.3 505.2 427.7 514.8 457 516 C486.3 517.2 529.3 511.9 559 510 C588.7 508.1 604.8 504.5 635 504.5 C665.2 504.5 713.0 508.8 740 510 C767.0 511.2 777.0 511.9 797 512 C817.0 512.1 838.8 512.8 860 510.6 C881.2 508.4 900.3 500.5 924.5 498.7 C948.7 496.9 979.2 498.9 1005 500 C1030.8 501.1 1052.2 503.8 1079 505 C1105.8 506.2 1134.3 509.1 1166 507.4 C1197.7 505.6 1251.8 496.6 1269 494.5" fill="none" stroke="#ffffff" stroke-width="1.3"/>
<g fill="#7cc6e2" fill-opacity="0.25">
 <path d="M846 548 L864 548 L862 560 L858 560 L858 605 L851 605 L851 560 L848 560Z"/>
 <rect x="853.5" y="541" width="1.2" height="7"/>
 <path d="M728 540 L745 540 L743 550 L740 550 L740 560 L733 560 L733 550 L730 550Z"/>
 <path d="M548 541 L565 541 L563 551 L559 551 L559 560 L553 560 L553 551 L550 551Z"/>
</g>
<path d="M815 600 L 845 590 M 830 596 L 820 615" stroke="#a8dbe9" stroke-opacity="0.6" stroke-width="1.5"/>
<path d="M470 720 Q 640 650 817 618 L 888 588 Q 1000 560 1095 553 L 1119 550.6 Q 1160 545 1187 535 Q 1230 525 1269 521 L1269 781 L470 781Z" fill="url(#sand)"/>
<defs><radialGradient id="sgd" cx="0.5" cy="0.5" r="0.5"><stop offset="0" stop-color="#6f8c6c" stop-opacity="0.55"/><stop offset="1" stop-color="#6f8c6c" stop-opacity="0"/></radialGradient></defs>
<ellipse cx="600" cy="770" rx="170" ry="60" fill="url(#sgd)"/>
<g fill="#5a6650" fill-opacity="0.35"><circle cx="979" cy="724" r="1.0"/><circle cx="1225" cy="724" r="1.0"/><circle cx="1225" cy="703" r="0.6"/><circle cx="690" cy="680" r="1.0"/><circle cx="692" cy="722" r="0.8"/><circle cx="715" cy="763" r="0.8"/><circle cx="623" cy="736" r="0.6"/><circle cx="975" cy="658" r="0.6"/><circle cx="501" cy="753" r="0.6"/><circle cx="1095" cy="772" r="0.6"/><circle cx="1171" cy="624" r="0.6"/><circle cx="915" cy="710" r="0.6"/><circle cx="640" cy="774" r="0.6"/><circle cx="1243" cy="758" r="0.8"/><circle cx="1220" cy="618" r="0.8"/><circle cx="732" cy="693" r="0.6"/><circle cx="958" cy="716" r="0.6"/><circle cx="738" cy="741" r="0.8"/><circle cx="1036" cy="601" r="0.8"/><circle cx="1042" cy="573" r="0.6"/><circle cx="1230" cy="639" r="0.8"/><circle cx="782" cy="688" r="0.6"/><circle cx="848" cy="716" r="1.0"/><circle cx="1235" cy="603" r="0.6"/><circle cx="1215" cy="768" r="0.8"/><circle cx="894" cy="757" r="0.8"/><circle cx="1096" cy="584" r="1.0"/><circle cx="1101" cy="641" r="0.8"/><circle cx="528" cy="769" r="0.6"/><circle cx="712" cy="715" r="0.6"/><circle cx="614" cy="712" r="0.8"/><circle cx="1259" cy="678" r="0.8"/><circle cx="1001" cy="592" r="1.0"/><circle cx="1145" cy="589" r="1.0"/><circle cx="934" cy="589" r="0.8"/><circle cx="615" cy="747" r="0.8"/><circle cx="609" cy="764" r="1.0"/><circle cx="1155" cy="776" r="0.8"/><circle cx="1238" cy="712" r="0.8"/><circle cx="868" cy="624" r="0.8"/><circle cx="1194" cy="585" r="1.0"/><circle cx="1238" cy="699" r="0.8"/><circle cx="1167" cy="600" r="0.8"/><circle cx="709" cy="733" r="1.0"/><circle cx="778" cy="734" r="0.8"/><circle cx="1034" cy="707" r="0.8"/><circle cx="779" cy="716" r="0.8"/><circle cx="1142" cy="619" r="1.0"/><circle cx="1051" cy="771" r="0.8"/><circle cx="1000" cy="688" r="0.6"/><circle cx="865" cy="731" r="0.8"/><circle cx="1016" cy="662" r="1.0"/><circle cx="998" cy="736" r="0.8"/><circle cx="1221" cy="650" r="0.6"/><circle cx="1169" cy="712" r="0.8"/><circle cx="1236" cy="675" r="1.0"/><circle cx="1254" cy="604" r="0.8"/><circle cx="1221" cy="665" r="1.0"/><circle cx="820" cy="696" r="1.0"/><circle cx="897" cy="767" r="0.8"/><circle cx="980" cy="731" r="1.0"/><circle cx="708" cy="780" r="0.6"/><circle cx="1000" cy="608" r="1.0"/><circle cx="639" cy="719" r="0.8"/><circle cx="1253" cy="597" r="0.6"/><circle cx="585" cy="774" r="0.8"/><circle cx="858" cy="644" r="1.0"/><circle cx="1052" cy="643" r="0.8"/><circle cx="812" cy="622" r="0.8"/><circle cx="1166" cy="712" r="1.0"/><circle cx="972" cy="581" r="1.0"/><circle cx="894" cy="770" r="0.8"/><circle cx="1237" cy="741" r="0.8"/><circle cx="815" cy="685" r="1.0"/><circle cx="958" cy="685" r="0.6"/><circle cx="1244" cy="695" r="0.8"/><circle cx="1132" cy="706" r="0.8"/><circle cx="973" cy="591" r="1.0"/><circle cx="1174" cy="685" r="0.8"/><circle cx="724" cy="775" r="0.8"/><circle cx="795" cy="749" r="0.6"/><circle cx="958" cy="617" r="0.8"/><circle cx="882" cy="652" r="0.8"/><circle cx="1227" cy="628" r="0.8"/><circle cx="1008" cy="772" r="0.6"/><circle cx="725" cy="733" r="0.8"/><circle cx="711" cy="767" r="0.6"/><circle cx="619" cy="779" r="0.8"/><circle cx="879" cy="779" r="1.0"/><circle cx="996" cy="693" r="1.0"/><circle cx="1188" cy="564" r="0.6"/><circle cx="731" cy="678" r="0.8"/><circle cx="972" cy="722" r="0.6"/><circle cx="857" cy="640" r="1.0"/><circle cx="1125" cy="589" r="0.6"/><circle cx="1205" cy="756" r="1.0"/><circle cx="1121" cy="691" r="1.0"/><circle cx="1045" cy="700" r="0.8"/><circle cx="1160" cy="746" r="0.8"/><circle cx="801" cy="748" r="0.6"/><circle cx="1191" cy="663" r="0.6"/><circle cx="1099" cy="689" r="1.0"/><circle cx="1100" cy="761" r="0.6"/><circle cx="627" cy="714" r="0.8"/><circle cx="1248" cy="679" r="0.8"/><circle cx="951" cy="739" r="0.6"/><circle cx="1063" cy="619" r="0.6"/><circle cx="1109" cy="707" r="0.6"/><circle cx="756" cy="655" r="0.6"/><circle cx="1268" cy="715" r="0.6"/><circle cx="973" cy="742" r="0.6"/><circle cx="1048" cy="590" r="0.8"/><circle cx="1043" cy="657" r="0.6"/><circle cx="970" cy="651" r="0.6"/><circle cx="927" cy="706" r="1.0"/><circle cx="942" cy="724" r="1.0"/><circle cx="742" cy="693" r="0.8"/><circle cx="772" cy="705" r="0.6"/><circle cx="937" cy="710" r="0.8"/><circle cx="1200" cy="683" r="1.0"/><circle cx="681" cy="744" r="0.8"/><circle cx="898" cy="590" r="0.6"/><circle cx="1164" cy="660" r="0.8"/><circle cx="638" cy="718" r="1.0"/><circle cx="763" cy="687" r="0.6"/></g>

<clipPath id="cpS"><path d="M0 497 L381 497 L438.3 620 L492 727 L516 781 L0 781Z"/></clipPath>
<g clip-path="url(#cpS)">
<rect x="0" y="497" width="520" height="284" fill="#a48d7c"/>
<rect x="0" y="497" width="520" height="4" fill="#927a6b"/>
<rect x="0" y="501" width="520" height="18" fill="#a08875"/>
<rect x="0" y="597" width="520" height="12" fill="#ad9685"/>
<rect x="0" y="762" width="520" height="19" fill="#9c8070"/>
<path d="M215.2 534.7 L211.6 539.3 L198.2 542.7 L190.2 540.5 L182.3 536.0 L189.9 529.5 L202.4 526.4 L211.2 529.5Z" fill="#8a7b70" fill-opacity="0.5"/>
<path d="M81.2 523.6 L79.8 527.6 L69.6 530.8 L59.9 528.7 L56.0 524.3 L60.6 520.3 L72.1 517.7 L80.0 520.5Z" fill="#8a7b70" fill-opacity="0.5"/>
<path d="M149.3 529.0 L145.1 533.1 L136.6 534.8 L133.1 533.1 L128.0 527.4 L132.8 523.5 L136.8 522.2 L146.8 524.8Z" fill="#8a7b70" fill-opacity="0.5"/>
<path d="M53.3 529.1 L50.0 534.9 L36.6 538.3 L26.8 536.3 L21.5 531.5 L24.9 525.0 L35.9 521.9 L47.8 523.9Z" fill="#8a7b70" fill-opacity="0.5"/>
<path d="M437.9 538.2 L434.1 546.9 L429.2 549.4 L420.7 546.1 L416.7 538.3 L419.7 533.9 L425.4 530.0 L434.3 531.9Z" fill="#8a7b70" fill-opacity="0.5"/>
<path d="M181.0 532.9 L175.2 536.9 L160.7 540.7 L154.1 538.1 L145.9 531.8 L149.5 527.4 L166.1 524.9 L173.5 527.6Z" fill="#8a7b70" fill-opacity="0.5"/>
<path d="M28.3 541.4 L23.8 548.2 L18.5 551.2 L11.4 548.8 L5.6 542.1 L10.3 536.3 L18.7 534.5 L22.6 535.6Z" fill="#8a7b70" fill-opacity="0.5"/>
<path d="M205.3 525.3 L204.3 530.4 L194.1 532.5 L188.3 529.9 L187.3 526.1 L187.0 520.7 L197.0 517.2 L201.9 519.0Z" fill="#8a7b70" fill-opacity="0.5"/>
<path d="M223.3 536.2 L220.0 546.0 L211.1 547.9 L202.6 544.4 L200.6 538.5 L205.1 529.4 L211.8 527.6 L221.3 532.0Z" fill="#8a7b70" fill-opacity="0.5"/>
<path d="M288.4 529.9 L283.0 538.7 L273.8 539.2 L264.6 536.6 L260.7 531.5 L263.6 526.3 L272.5 523.1 L283.6 525.8Z" fill="#8a7b70" fill-opacity="0.5"/>
<path d="M319.1 532.6 L317.9 539.8 L308.7 542.0 L295.9 539.1 L292.6 533.7 L296.7 527.1 L305.7 524.3 L318.9 527.1Z" fill="#8a7b70" fill-opacity="0.5"/>
<path d="M400.4 530.3 L396.0 537.3 L386.1 539.0 L379.5 536.3 L374.8 531.4 L377.2 527.0 L388.0 524.3 L396.6 525.6Z" fill="#8a7b70" fill-opacity="0.5"/>
<path d="M440.3 533.4 L438.2 537.2 L432.9 538.9 L427.4 537.1 L423.9 532.7 L426.8 528.2 L430.9 527.4 L438.9 528.7Z" fill="#8a7b70" fill-opacity="0.5"/>
<path d="M291.0 537.1 L287.0 542.6 L280.1 545.7 L266.6 542.1 L262.9 537.3 L267.5 529.2 L277.9 526.4 L288.0 529.0Z" fill="#8a7b70" fill-opacity="0.5"/>
<path d="M414.3 524.4 L410.4 532.6 L399.5 534.4 L385.0 531.1 L383.2 524.2 L389.0 519.7 L400.3 516.5 L411.2 519.6Z" fill="#8a7b70" fill-opacity="0.5"/>
<path d="M111.2 541.3 L107.3 548.0 L91.6 550.2 L84.6 548.8 L76.6 540.9 L83.6 535.1 L95.6 532.6 L105.6 535.7Z" fill="#8a7b70" fill-opacity="0.5"/>
<path d="M157.7 539.0 L153.6 544.3 L145.7 545.2 L140.2 542.2 L137.6 539.7 L139.5 534.6 L147.9 532.6 L155.3 535.1Z" fill="#8a7b70" fill-opacity="0.5"/>
<path d="M153.5 530.1 L145.8 538.9 L136.7 539.8 L126.2 537.7 L123.7 530.9 L128.6 523.6 L136.5 521.3 L148.1 524.9Z" fill="#8a7b70" fill-opacity="0.5"/>
<path d="M317.9 526.7 L313.9 529.9 L305.9 532.4 L292.9 530.2 L291.8 525.3 L293.6 520.6 L306.0 518.6 L312.9 521.2Z" fill="#8a7b70" fill-opacity="0.5"/>
<path d="M99.8 527.9 L97.4 532.7 L87.5 535.3 L77.2 533.4 L71.6 528.2 L75.3 523.7 L85.6 521.9 L94.3 522.6Z" fill="#8a7b70" fill-opacity="0.5"/>
<path d="M295.1 535.1 L291.3 540.8 L278.6 541.8 L270.0 540.9 L264.0 535.1 L272.7 528.1 L279.3 525.5 L289.7 528.4Z" fill="#8a7b70" fill-opacity="0.5"/>
<path d="M381.6 531.8 L377.5 535.3 L365.0 538.9 L355.1 535.2 L350.5 532.0 L355.3 527.4 L364.5 526.4 L373.9 527.5Z" fill="#8a7b70" fill-opacity="0.5"/>
<path d="M254.8 533.0 L251.6 539.4 L240.7 539.4 L234.4 539.6 L228.8 533.9 L232.9 529.6 L242.8 527.5 L251.2 530.0Z" fill="#8a7b70" fill-opacity="0.5"/>
<path d="M318.3 540.7 L315.8 544.3 L308.4 546.7 L299.7 544.8 L297.5 539.4 L301.9 534.6 L308.9 532.5 L317.4 535.5Z" fill="#8a7b70" fill-opacity="0.5"/>
<path d="M127.6 542.4 L122.9 549.1 L112.4 550.6 L102.7 546.7 L100.7 540.6 L102.9 535.5 L110.9 533.0 L124.7 535.3Z" fill="#8a7b70" fill-opacity="0.5"/>
<path d="M116.2 542.4 L111.5 546.9 L99.3 549.1 L90.9 546.8 L90.1 540.7 L92.3 536.4 L100.8 535.1 L109.4 536.5Z" fill="#8a7b70" fill-opacity="0.5"/>
<path d="M175.9 526.1 L171.4 533.7 L163.1 535.3 L157.8 531.0 L154.0 525.5 L155.7 520.1 L163.9 516.7 L171.7 518.5Z" fill="#8a7b70" fill-opacity="0.5"/>
<path d="M285.3 525.2 L280.2 529.8 L267.9 532.6 L258.1 531.1 L254.8 525.6 L257.9 520.9 L266.6 517.3 L280.7 519.1Z" fill="#8a7b70" fill-opacity="0.5"/>
<path d="M346.9 523.2 L341.1 531.4 L326.4 533.7 L316.4 532.3 L313.1 524.1 L319.5 516.5 L329.9 516.4 L341.2 518.7Z" fill="#8a7b70" fill-opacity="0.5"/>
<path d="M102.9 524.8 L98.3 529.1 L89.2 531.1 L79.6 528.9 L75.7 523.6 L82.0 520.5 L87.5 518.2 L99.9 521.0Z" fill="#8a7b70" fill-opacity="0.5"/>
<path d="M172.4 530.1 L166.2 535.5 L159.6 538.6 L145.6 534.8 L145.7 531.1 L147.5 524.8 L158.7 522.6 L167.1 524.8Z" fill="#ae9a8a" fill-opacity="0.4"/>
<path d="M50.9 535.1 L47.8 540.4 L36.7 544.3 L31.2 541.6 L24.8 534.4 L30.5 529.5 L37.7 527.7 L47.9 530.6Z" fill="#ae9a8a" fill-opacity="0.4"/>
<path d="M299.9 540.7 L295.5 545.1 L289.6 548.4 L281.8 545.7 L276.5 539.6 L280.7 534.1 L288.7 532.8 L294.8 533.4Z" fill="#ae9a8a" fill-opacity="0.4"/>
<path d="M49.0 529.6 L47.2 536.2 L36.6 537.9 L24.9 535.8 L20.4 528.7 L27.8 523.5 L37.6 522.2 L45.1 524.0Z" fill="#ae9a8a" fill-opacity="0.4"/>
<path d="M421.5 538.2 L418.8 543.3 L412.6 545.8 L402.8 543.0 L400.6 537.5 L402.3 533.9 L412.8 531.8 L417.2 532.5Z" fill="#ae9a8a" fill-opacity="0.4"/>
<path d="M253.8 534.8 L251.4 540.3 L241.8 541.3 L225.8 539.7 L223.0 535.4 L225.7 528.7 L240.3 526.2 L250.1 527.0Z" fill="#ae9a8a" fill-opacity="0.4"/>
<path d="M241.5 538.1 L237.9 541.8 L228.4 544.1 L220.1 540.7 L217.4 535.7 L221.9 530.6 L231.2 529.0 L239.5 532.6Z" fill="#ae9a8a" fill-opacity="0.4"/>
<path d="M244.1 535.7 L241.1 542.3 L231.2 542.8 L221.5 541.7 L214.0 536.6 L218.9 531.9 L228.1 528.4 L241.2 531.7Z" fill="#ae9a8a" fill-opacity="0.4"/>
<path d="M39.2 530.9 L37.2 537.7 L28.9 542.1 L18.4 538.3 L15.0 533.5 L16.3 526.4 L26.4 523.0 L37.8 526.8Z" fill="#ae9a8a" fill-opacity="0.4"/>
<path d="M132.1 538.6 L125.1 543.1 L117.7 546.2 L102.6 542.7 L98.8 538.3 L101.1 533.3 L115.5 531.8 L123.3 532.6Z" fill="#ae9a8a" fill-opacity="0.4"/>
<path d="M176.4 536.1 L173.6 542.2 L161.4 545.2 L151.7 543.2 L149.2 537.9 L151.4 531.9 L160.5 528.6 L175.7 531.9Z" fill="#ae9a8a" fill-opacity="0.4"/>
<path d="M50.4 529.7 L44.5 535.0 L34.3 535.6 L25.3 533.5 L23.6 528.9 L28.2 525.2 L36.5 523.6 L45.5 524.5Z" fill="#ae9a8a" fill-opacity="0.4"/>
<path d="M153.0 569.2 L150.5 574.2 L144.7 576.0 L136.1 574.9 L133.7 568.4 L135.8 565.6 L144.0 562.8 L149.9 564.6Z" fill="#918074" fill-opacity="0.3"/>
<path d="M18.9 590.0 L15.9 594.2 L6.0 596.1 L-5.6 594.8 L-8.9 590.3 L-4.3 584.9 L7.5 583.2 L15.8 585.7Z" fill="#918074" fill-opacity="0.3"/>
<path d="M390.6 563.2 L387.9 566.4 L379.0 569.0 L375.0 567.4 L371.6 563.5 L373.9 559.0 L382.0 556.8 L387.6 558.3Z" fill="#918074" fill-opacity="0.3"/>
<path d="M363.1 584.4 L361.7 589.7 L350.4 592.1 L343.8 589.4 L341.8 585.9 L343.7 579.8 L351.0 577.9 L361.6 579.3Z" fill="#918074" fill-opacity="0.3"/>
<path d="M389.5 579.8 L387.0 584.2 L381.1 587.4 L371.3 583.2 L368.9 577.5 L371.0 572.4 L380.1 570.2 L385.0 571.6Z" fill="#918074" fill-opacity="0.3"/>
<path d="M276.3 580.4 L275.2 587.1 L267.0 591.1 L257.0 587.5 L254.6 580.7 L257.9 572.4 L266.6 571.4 L272.4 572.8Z" fill="#918074" fill-opacity="0.3"/>
<path d="M142.4 587.9 L139.3 592.1 L134.6 594.2 L123.1 591.8 L122.7 586.4 L125.4 580.5 L132.2 578.7 L140.1 582.5Z" fill="#918074" fill-opacity="0.3"/>
<path d="M100.8 574.2 L98.3 578.9 L91.5 581.0 L85.3 578.4 L82.8 573.6 L86.1 567.9 L91.7 566.9 L99.4 568.9Z" fill="#918074" fill-opacity="0.3"/>
<path d="M362.1 584.0 L357.7 589.0 L348.3 593.1 L339.8 589.3 L335.1 582.8 L340.3 576.9 L349.9 572.0 L358.5 576.3Z" fill="#918074" fill-opacity="0.3"/>
<path d="M358.8 568.2 L355.0 573.3 L348.3 575.4 L337.0 573.1 L333.0 569.6 L336.6 565.7 L348.3 562.5 L356.7 564.8Z" fill="#918074" fill-opacity="0.3"/>
<path d="M205.2 584.4 L202.9 589.6 L195.4 592.8 L186.3 588.5 L184.0 585.0 L186.8 579.1 L195.6 574.9 L200.6 578.0Z" fill="#918074" fill-opacity="0.3"/>
<path d="M278.2 560.7 L275.0 569.8 L269.4 570.0 L263.0 569.1 L261.2 560.0 L264.1 554.3 L269.2 552.8 L277.4 555.2Z" fill="#918074" fill-opacity="0.3"/>
<path d="M102.0 577.5 L99.1 585.7 L91.2 588.8 L85.8 584.4 L81.7 578.2 L86.3 573.3 L91.9 570.3 L100.1 573.5Z" fill="#918074" fill-opacity="0.3"/>
<path d="M97.6 566.6 L91.6 574.4 L84.7 575.4 L71.5 572.4 L69.0 567.9 L70.7 561.3 L82.9 558.2 L92.1 561.6Z" fill="#918074" fill-opacity="0.3"/>
<path d="M285.8 567.1 L282.2 575.0 L276.8 577.5 L268.7 576.2 L266.6 567.0 L267.8 562.0 L275.3 558.7 L282.8 562.7Z" fill="#918074" fill-opacity="0.3"/>
<path d="M267.2 580.3 L264.5 585.7 L254.9 587.7 L247.1 583.7 L245.3 578.5 L248.5 573.6 L255.5 570.5 L265.4 573.8Z" fill="#918074" fill-opacity="0.3"/>
<path d="M117.8 574.7 L116.0 580.9 L108.2 583.4 L102.7 580.5 L98.3 576.2 L101.1 569.2 L107.5 566.1 L115.1 567.5Z" fill="#918074" fill-opacity="0.3"/>
<path d="M275.7 575.4 L273.3 579.9 L261.0 583.0 L252.1 581.6 L246.0 577.5 L250.6 572.5 L259.6 569.3 L274.2 571.9Z" fill="#918074" fill-opacity="0.3"/>
<path d="M39.4 654.0 L38.0 657.8 L27.3 658.8 L20.9 657.9 L18.7 654.0 L23.2 648.0 L28.9 646.5 L36.4 648.5Z" fill="#918074" fill-opacity="0.3"/>
<path d="M30.1 698.8 L25.9 705.5 L16.7 709.2 L7.1 705.9 L1.8 698.0 L4.7 694.9 L17.2 692.0 L26.5 692.9Z" fill="#918074" fill-opacity="0.3"/>
<path d="M431.7 666.9 L427.2 672.7 L416.6 674.5 L405.3 673.3 L400.6 668.2 L402.9 662.6 L413.8 659.8 L428.4 662.9Z" fill="#918074" fill-opacity="0.3"/>
<path d="M425.3 636.8 L422.0 639.8 L415.5 642.0 L405.4 641.3 L403.1 635.9 L406.1 632.7 L416.1 630.6 L423.6 632.4Z" fill="#918074" fill-opacity="0.3"/>
<path d="M447.4 620.3 L444.4 626.7 L435.3 628.1 L428.3 626.7 L425.3 622.8 L428.6 616.9 L434.6 614.5 L442.7 617.0Z" fill="#918074" fill-opacity="0.3"/>
<path d="M352.3 639.7 L350.7 646.5 L339.7 649.0 L328.5 645.5 L325.5 641.5 L329.2 636.2 L336.4 632.4 L350.3 634.7Z" fill="#918074" fill-opacity="0.3"/>
<path d="M482.7 642.7 L478.4 651.6 L466.4 652.5 L459.0 649.5 L454.8 644.1 L457.2 638.7 L467.3 634.5 L476.5 637.3Z" fill="#918074" fill-opacity="0.3"/>
<path d="M202.1 657.2 L200.5 663.4 L194.6 666.5 L185.5 663.5 L184.4 657.4 L186.1 652.6 L191.5 650.0 L198.9 651.2Z" fill="#918074" fill-opacity="0.3"/>
<path d="M291.8 656.3 L287.9 663.1 L282.3 664.5 L274.4 662.8 L268.8 657.2 L272.7 652.9 L283.3 650.4 L289.8 652.8Z" fill="#918074" fill-opacity="0.3"/>
<path d="M207.7 654.6 L202.9 659.8 L198.8 662.2 L190.5 659.8 L187.5 651.7 L189.3 648.1 L198.0 644.8 L203.3 645.7Z" fill="#918074" fill-opacity="0.3"/>
<path d="M201.9 639.3 L198.4 645.6 L186.8 647.0 L180.0 645.9 L176.0 639.8 L180.6 632.6 L191.6 630.4 L196.8 632.3Z" fill="#918074" fill-opacity="0.3"/>
<path d="M247.1 665.8 L243.9 669.2 L236.3 671.5 L228.0 669.5 L225.3 666.2 L225.7 660.9 L233.8 658.4 L244.5 660.8Z" fill="#918074" fill-opacity="0.3"/>
<path d="M93.4 688.7 L87.3 693.9 L76.8 694.9 L66.7 693.0 L61.7 689.7 L68.0 684.1 L78.4 683.4 L90.1 685.3Z" fill="#918074" fill-opacity="0.3"/>
<path d="M407.9 684.6 L405.6 688.0 L398.5 692.1 L391.6 687.8 L389.4 683.6 L392.6 678.8 L400.7 676.1 L404.6 677.8Z" fill="#918074" fill-opacity="0.3"/>
<path d="M66.5 624.9 L64.1 628.4 L56.6 632.0 L49.9 629.5 L45.1 622.3 L48.7 618.0 L57.4 614.2 L65.6 618.7Z" fill="#918074" fill-opacity="0.3"/>
<path d="M346.5 662.9 L341.2 668.6 L333.2 669.5 L324.5 667.9 L319.5 663.5 L323.7 659.2 L331.5 657.4 L342.5 659.2Z" fill="#918074" fill-opacity="0.3"/>
<path d="M38.8 624.1 L37.0 630.6 L26.6 632.7 L13.9 630.0 L9.5 624.3 L11.7 621.1 L25.6 618.0 L35.6 619.2Z" fill="#918074" fill-opacity="0.3"/>
<path d="M426.1 700.3 L424.2 704.2 L416.7 707.5 L406.5 706.7 L402.9 700.2 L405.6 694.9 L417.0 691.7 L424.3 692.8Z" fill="#918074" fill-opacity="0.3"/>
<path d="M392.7 680.1 L386.2 685.5 L378.2 687.4 L371.9 684.2 L370.0 677.5 L372.8 672.8 L379.8 670.2 L389.8 672.5Z" fill="#918074" fill-opacity="0.3"/>
<path d="M185.8 672.1 L184.0 674.9 L174.0 677.4 L166.1 675.5 L164.5 670.6 L166.6 667.4 L174.4 664.3 L181.4 665.3Z" fill="#918074" fill-opacity="0.3"/>
<path d="M207.5 644.5 L203.9 652.3 L195.8 656.2 L183.8 653.4 L181.1 646.8 L186.0 639.1 L192.4 635.9 L203.7 640.6Z" fill="#918074" fill-opacity="0.3"/>
<path d="M103.9 648.9 L98.2 653.0 L87.2 655.5 L74.6 652.5 L71.5 648.6 L73.8 644.5 L89.3 642.3 L100.1 644.5Z" fill="#918074" fill-opacity="0.3"/>
<path d="M196.5 638.4 L193.4 644.3 L184.1 646.6 L174.6 642.6 L169.7 638.5 L176.5 632.5 L186.0 629.5 L194.5 632.0Z" fill="#918074" fill-opacity="0.3"/>
<path d="M73.6 700.1 L68.5 705.1 L59.3 705.9 L51.5 702.5 L47.8 698.2 L50.4 694.7 L60.6 692.5 L70.1 695.5Z" fill="#918074" fill-opacity="0.3"/>
<path d="M143.4 672.4 L141.9 676.9 L132.8 679.9 L126.9 677.5 L125.8 670.6 L128.0 666.7 L132.6 664.0 L142.2 666.4Z" fill="#918074" fill-opacity="0.3"/>
<path d="M69.1 635.0 L67.0 640.4 L57.8 643.8 L46.4 640.2 L44.3 635.7 L48.8 629.0 L55.6 625.9 L64.6 628.8Z" fill="#918074" fill-opacity="0.3"/>
<path d="M323.6 749.2 L321.0 752.1 L311.8 755.0 L307.4 753.0 L303.3 747.4 L307.4 744.0 L312.9 742.5 L319.8 743.5Z" fill="#8a7b70" fill-opacity="0.5"/>
<path d="M233.9 751.7 L230.2 756.9 L222.1 759.3 L212.6 758.0 L208.1 752.4 L213.2 746.0 L222.8 744.4 L230.2 746.8Z" fill="#8a7b70" fill-opacity="0.5"/>
<path d="M246.4 733.4 L242.7 738.2 L232.4 740.0 L225.8 738.1 L222.1 732.5 L224.8 729.0 L234.8 726.2 L242.0 728.8Z" fill="#8a7b70" fill-opacity="0.5"/>
<path d="M61.6 753.1 L57.6 758.7 L50.1 761.4 L46.3 759.7 L42.6 753.6 L45.3 748.7 L52.4 746.2 L60.3 749.0Z" fill="#8a7b70" fill-opacity="0.5"/>
<path d="M533.0 742.2 L528.4 746.2 L516.8 750.1 L505.7 748.7 L501.6 742.4 L504.4 736.6 L517.5 734.0 L525.6 734.7Z" fill="#8a7b70" fill-opacity="0.5"/>
<path d="M335.3 750.7 L332.5 755.0 L326.2 759.3 L314.4 755.4 L313.9 751.4 L316.5 743.4 L322.2 740.4 L330.9 743.0Z" fill="#8a7b70" fill-opacity="0.5"/>
<path d="M74.0 745.7 L70.5 750.1 L65.1 751.1 L58.8 750.4 L55.2 745.5 L59.5 741.2 L66.0 740.1 L72.8 742.2Z" fill="#8a7b70" fill-opacity="0.5"/>
<path d="M224.9 746.4 L224.5 752.9 L209.8 756.6 L202.0 754.3 L197.7 748.3 L198.4 739.8 L212.3 736.4 L219.9 739.0Z" fill="#8a7b70" fill-opacity="0.5"/>
<path d="M50.2 737.6 L47.6 745.9 L39.0 747.6 L33.3 745.5 L31.7 738.6 L35.0 731.5 L40.2 729.1 L47.2 731.8Z" fill="#8a7b70" fill-opacity="0.5"/>
<path d="M232.8 741.2 L230.0 749.2 L224.8 750.9 L218.1 749.2 L215.4 742.9 L218.1 735.9 L222.1 734.2 L230.5 738.3Z" fill="#8a7b70" fill-opacity="0.5"/>
<path d="M319.5 754.7 L316.5 761.2 L309.4 763.1 L299.9 761.1 L298.3 756.4 L300.1 750.2 L309.9 747.2 L317.6 750.3Z" fill="#8a7b70" fill-opacity="0.5"/>
<path d="M157.5 749.5 L156.2 755.1 L147.5 758.2 L142.9 756.7 L139.1 750.1 L141.5 740.7 L149.1 739.8 L156.7 742.5Z" fill="#8a7b70" fill-opacity="0.5"/>
<path d="M317.5 732.7 L309.0 737.6 L299.9 739.4 L290.7 736.7 L287.4 732.3 L290.4 727.9 L302.7 725.5 L310.7 725.7Z" fill="#8a7b70" fill-opacity="0.5"/>
<path d="M357.0 744.6 L353.7 750.1 L347.5 751.2 L339.0 749.9 L336.2 746.2 L340.4 741.3 L346.2 739.1 L354.4 740.6Z" fill="#8a7b70" fill-opacity="0.5"/>
<path d="M268.9 747.1 L266.2 754.0 L258.0 757.0 L249.9 755.3 L245.0 748.2 L247.9 742.5 L258.2 740.1 L265.2 742.6Z" fill="#8a7b70" fill-opacity="0.5"/>
<path d="M524.7 739.2 L519.0 744.5 L512.5 747.0 L500.0 745.1 L495.5 740.1 L499.1 734.5 L512.2 733.3 L519.2 735.4Z" fill="#8a7b70" fill-opacity="0.5"/>
<path d="M403.0 732.7 L399.3 741.1 L392.3 742.7 L382.0 739.9 L381.7 733.5 L385.2 727.8 L390.3 725.4 L399.0 728.9Z" fill="#8a7b70" fill-opacity="0.5"/>
<path d="M412.8 746.7 L407.1 754.1 L399.2 756.1 L386.4 751.6 L384.0 746.8 L387.5 739.7 L396.5 737.2 L407.0 738.5Z" fill="#8a7b70" fill-opacity="0.5"/>
<path d="M151.6 739.9 L148.8 745.6 L141.3 746.7 L133.4 743.8 L129.9 738.3 L135.4 733.1 L139.6 730.4 L149.5 732.7Z" fill="#8a7b70" fill-opacity="0.5"/>
<path d="M132.8 744.4 L129.0 748.9 L122.7 752.3 L113.9 750.6 L111.0 742.4 L115.3 736.6 L121.7 735.0 L130.5 738.3Z" fill="#8a7b70" fill-opacity="0.5"/>
<path d="M467.3 732.3 L461.6 738.7 L451.4 739.9 L444.6 737.3 L440.7 733.4 L444.2 729.3 L453.5 727.9 L463.8 729.6Z" fill="#8a7b70" fill-opacity="0.5"/>
<path d="M265.1 735.4 L262.2 738.4 L253.5 742.2 L241.3 739.0 L239.2 732.3 L244.4 726.9 L250.3 726.1 L262.2 728.2Z" fill="#8a7b70" fill-opacity="0.5"/>
<path d="M336.3 746.8 L330.5 749.8 L316.0 753.4 L310.7 751.2 L302.2 745.9 L307.3 742.3 L320.4 740.2 L326.5 742.1Z" fill="#8a7b70" fill-opacity="0.5"/>
<path d="M427.5 754.9 L426.3 759.8 L414.4 762.9 L402.6 760.4 L398.0 754.9 L400.1 750.4 L411.2 748.7 L422.5 749.7Z" fill="#8a7b70" fill-opacity="0.5"/>
<path d="M418.0 739.2 L416.4 745.7 L408.7 747.7 L401.0 746.1 L396.6 739.2 L400.9 733.4 L405.6 731.3 L413.7 734.0Z" fill="#8a7b70" fill-opacity="0.5"/>
<path d="M228.2 757.1 L223.3 760.2 L214.0 763.4 L207.3 761.5 L204.5 756.1 L207.2 750.2 L215.3 748.0 L221.9 749.8Z" fill="#8a7b70" fill-opacity="0.5"/>
<path d="M214.9 732.8 L207.6 739.3 L198.9 740.5 L187.9 738.9 L183.4 732.5 L184.6 729.6 L200.3 727.0 L210.6 730.0Z" fill="#8a7b70" fill-opacity="0.5"/>
<path d="M203.4 733.4 L200.8 740.5 L194.4 743.6 L187.2 742.5 L182.6 734.7 L186.8 727.5 L195.3 726.5 L199.7 728.3Z" fill="#8a7b70" fill-opacity="0.5"/>
<path d="M175.9 749.3 L171.2 755.6 L158.8 758.8 L149.6 755.9 L145.4 749.2 L147.1 745.0 L163.6 743.5 L172.9 745.5Z" fill="#8a7b70" fill-opacity="0.5"/>
<path d="M35.8 735.0 L35.4 741.7 L27.0 744.9 L20.5 741.6 L17.6 737.5 L19.2 731.3 L27.4 727.6 L34.2 729.6Z" fill="#8a7b70" fill-opacity="0.5"/>
<path d="M180.5 740.1 L175.6 745.8 L162.5 747.8 L151.1 745.4 L150.8 739.3 L152.7 734.1 L163.7 733.0 L176.0 735.6Z" fill="#b09c8c" fill-opacity="0.4"/>
<path d="M320.0 735.7 L315.6 741.5 L303.5 744.4 L292.4 741.5 L287.8 738.2 L291.0 732.4 L304.3 730.0 L312.8 731.2Z" fill="#b09c8c" fill-opacity="0.4"/>
<path d="M265.1 745.4 L259.9 750.6 L248.3 752.8 L239.3 751.4 L234.6 745.5 L238.2 740.1 L250.5 738.7 L261.8 739.9Z" fill="#b09c8c" fill-opacity="0.4"/>
<path d="M272.4 741.1 L267.8 746.2 L260.8 747.2 L253.2 744.7 L252.2 739.4 L255.6 735.2 L260.4 732.9 L267.3 734.7Z" fill="#b09c8c" fill-opacity="0.4"/>
<path d="M192.1 749.9 L189.8 753.8 L180.8 758.5 L168.2 753.5 L164.5 749.5 L169.0 740.2 L179.0 739.8 L187.6 742.9Z" fill="#b09c8c" fill-opacity="0.4"/>
<path d="M467.5 748.1 L461.0 754.7 L451.9 756.7 L443.6 754.8 L437.5 746.8 L440.8 740.5 L452.4 738.7 L460.3 741.3Z" fill="#b09c8c" fill-opacity="0.4"/>
<path d="M112.8 745.0 L105.1 752.9 L94.8 755.2 L85.1 751.3 L84.2 746.3 L87.6 739.0 L94.6 735.6 L107.4 739.1Z" fill="#b09c8c" fill-opacity="0.4"/>
<path d="M396.9 737.7 L394.7 742.6 L387.8 746.6 L378.5 743.2 L377.2 738.8 L379.3 733.5 L388.9 731.3 L394.5 732.4Z" fill="#b09c8c" fill-opacity="0.4"/>
<path d="M409.1 745.4 L407.1 751.6 L396.3 752.7 L387.0 749.3 L382.8 745.3 L385.4 737.7 L397.6 735.0 L407.4 737.9Z" fill="#b09c8c" fill-opacity="0.4"/>
<path d="M380.4 742.2 L373.4 746.7 L369.0 748.0 L358.1 746.2 L355.4 743.1 L358.4 737.4 L366.6 735.8 L376.5 738.1Z" fill="#b09c8c" fill-opacity="0.4"/>
<path d="M32.7 746.7 L31.8 750.2 L24.2 752.2 L15.5 750.5 L14.3 746.8 L16.0 742.4 L22.7 741.1 L30.7 741.7Z" fill="#b09c8c" fill-opacity="0.4"/>
<path d="M277.1 740.4 L272.1 748.3 L265.2 750.5 L256.8 747.7 L253.1 740.9 L255.1 735.0 L264.4 732.2 L274.0 736.0Z" fill="#b09c8c" fill-opacity="0.4"/>
</g>
<path d="M381 497 L438.3 620 L492 727 L516 781" stroke="#7d6656" stroke-width="1.4" fill="none"/>

<!-- vertical arrows -->
<g id="va">
 <g filter="url(#sh2)" fill="#1d5a8c" fill-opacity="0.55">
  <path d="M183 160 L196 162 L196 280 L202 280 L184 310Z"/>
  <path d="M222 175 L240 192 L240 303 L222 303Z"/>
 </g>
 <path id="gA" d="M170.5 157 L177.5 171 L184.5 157 L184.5 277 L196 271.5 L177.5 305 L159 271.5 L170.5 277Z" fill="#1cc79f" stroke="#fff" stroke-width="1.3" stroke-linejoin="miter"/>
 <path id="oA" d="M217.3 161 L234.5 191.5 L223.3 188 L223.3 298 L217.3 289 L211.3 298 L211.3 188 L200.1 191.5Z" fill="#f39224" stroke="#fff" stroke-width="1.3"/>
</g>
<use href="#va" x="436.8" y="0"/>
<use href="#va" x="882" y="0"/>

<!-- blue banners -->
<rect x="113" y="317.5" width="170" height="29" fill="url(#ban2)"/>
<rect x="549" y="317.5" width="172" height="29" fill="url(#ban2)"/>
<rect x="993.5" y="317.5" width="172" height="29" fill="url(#ban2)"/>

<!-- info arrows -->
<g id="ia">
 <path d="M294 337 L316 325 L313 334 L518 334 L515 325 L537 337 L515 350 L518 341 L313 341 L316 350Z" fill="#2f5c78" fill-opacity="0.4" filter="url(#sh)"/>
 <path d="M292.2 330 L314 317.5 L311.2 327.2 L520.3 327.2 L517.5 317.2 L538.8 330 L517.5 342.7 L520.3 333.1 L311.2 333.1 L314 342.6Z" fill="#1f5fcc" stroke="#fff" stroke-width="1.5" stroke-linejoin="miter"/>
</g>
<use href="#ia" x="444.7" y="0"/>

<!-- red/purple arrows -->
<path d="M322.7 399.1 L497.5 399.1 L494.7 388.5 Q 506.8 395.8 516.7 401.1 Q 506.8 406.4 494.7 413.7 L497.5 403.1 L322.7 403.1 L325.7 401.1Z" fill="#df5068"/>
<path d="M313.8 429.3 Q 324.0 424.1 336.5 417.0 L333.7 427.0 L509.6 427.0 L506.6 429.3 L509.6 431.6 L333.7 431.6 L336.5 441.6 Q 324.0 434.5 313.8 429.3Z" fill="#df5068"/>
<path d="M767.2 398.9 L942.2 398.9 L939.4 388.3 Q 951.4 395.6 961.2 400.9 Q 951.4 406.2 939.4 413.5 L942.2 402.9 L767.2 402.9 L770.2 400.9Z" fill="#7a5db2"/>
<path d="M759 429.4 Q 769.2 424.3 781.7 417.2 L778.9 427.1 L954.8 427.1 L951.8 429.4 L954.8 431.7 L778.9 431.7 L781.7 441.6 Q 769.2 434.5 759 429.4Z" fill="#7a5db2"/>

<!-- challenges banner -->
<rect x="428" y="514" width="416" height="26.5" fill="url(#chal)"/>

<!-- legend arrows -->
<defs>
 <linearGradient id="fw" x1="0" x2="1"><stop offset="0" stop-color="#fff"/><stop offset="0.65" stop-color="#fff" stop-opacity="0.9"/><stop offset="1" stop-color="#fff" stop-opacity="0"/></linearGradient>
 <linearGradient id="lgB" x1="0" x2="1"><stop offset="0" stop-color="#1f5fcc"/><stop offset="0.6" stop-color="#2a6ad0"/><stop offset="1" stop-color="#2a6ad0" stop-opacity="0"/></linearGradient>
 <linearGradient id="lgR" x1="0" x2="1"><stop offset="0" stop-color="#e05564"/><stop offset="0.6" stop-color="#e26070"/><stop offset="1" stop-color="#e26070" stop-opacity="0"/></linearGradient>
 <linearGradient id="lgP" x1="0" x2="1"><stop offset="0" stop-color="#7c5cb2"/><stop offset="0.6" stop-color="#8466b8"/><stop offset="1" stop-color="#8466b8" stop-opacity="0"/></linearGradient>
</defs>
<g id="legA">
 <rect x="354" y="750" width="52" height="7" fill="url(#fw)"/>
 <rect x="354" y="752" width="52" height="3" fill="url(#lgB)"/>
 <path d="M335.5 753.5 L358.5 740.5 L354.5 752 L354.5 755 L358.5 766.5Z" fill="#1f5fcc" stroke="#fff" stroke-width="1.2" stroke-linejoin="miter"/>
</g>
<g transform="translate(219.5 0)">
 <rect x="354" y="750" width="52" height="7" fill="url(#fw)"/>
 <rect x="354" y="752" width="52" height="3" fill="url(#lgR)"/>
 <path d="M335.5 753.5 L358.5 740.5 L354.5 752 L354.5 755 L358.5 766.5Z" fill="#e05564" stroke="#fff" stroke-width="1.2" stroke-linejoin="miter"/>
</g>
<g transform="translate(430 0)">
 <rect x="354" y="750" width="52" height="7" fill="url(#fw)"/>
 <rect x="354" y="752" width="52" height="3" fill="url(#lgP)"/>
 <path d="M335.5 753.5 L358.5 740.5 L354.5 752 L354.5 755 L358.5 766.5Z" fill="#7c5cb2" stroke="#fff" stroke-width="1.2" stroke-linejoin="miter"/>
</g>
</svg>

<!-- top row -->
<div class="pill" style="left:69px;top:57px">Short-term events</div>
<div class="t" style="left:87px;top:93px;font-size:15.6px;color:#2e4250">Wildfire, Typhoon,<span style="letter-spacing:-0.6px">&middot;&middot;&middot;</span></div>
<div class="pill" style="left:1064px;top:57px">Long-term impacts</div>
<div class="t" style="left:1081px;top:93px;font-size:15.5px;color:#2e4250">Glacier retreat,<span style="letter-spacing:-0.6px">&middot;&middot;&middot;</span></div>
<div class="ban" style="left:494px;top:92px;font-size:17.4px">Climate Change &amp; Ecological Risk</div>

<!-- side labels -->
<div class="lbl" style="left:30px;top:204px;width:120px">Resource<br>scarcity and<br>inelastic demand</div>
<div class="lbl" style="left:240px;top:194px;width:160px">Greenhouse<br>gas emission,<br>electronic waste,<br>air and soil pollution</div>
<div class="lbl" style="left:473px;top:214px;width:120px">Meteorological<br>condition</div>
<div class="lbl" style="left:678px;top:204px;width:120px">Microclimate<br>and ecological<br>process impact</div>
<div class="lbl" style="left:918px;top:204px;width:120px">Unbalanced<br>resources and<br>random risk</div>
<div class="lbl" style="left:1102px;top:214px;width:120px">Ecological<br>damage</div>

<div class="t" style="left:361px;top:300px;font-size:16.6px;color:#2e3e48">Info interaction</div>
<div class="t" style="left:806px;top:300px;font-size:16.6px;color:#2e3e48">Info interaction</div>

<div class="ban" style="left:148px;top:321px">Exploitation</div>
<div class="ban" style="left:588px;top:321px">Production</div>
<div class="ban" style="left:1037px;top:321px">Utilization</div>

<div class="t" style="left:360px;top:369px;font-size:16.2px;color:#2e3e48">Material supply</div>
<div class="t" style="left:360px;top:443px;font-size:16.1px;color:#2e3e48">Waste recycling</div>
<div class="t" style="left:810px;top:369px;font-size:16px;color:#2e3e48">Energy supply</div>
<div class="t" style="left:806px;top:443px;font-size:16px;color:#2e3e48">Energy storage</div>

<div class="ban" style="left:538px;top:517px">Challenges &amp; Solutions</div>

<!-- cards -->
<div class="card" style="left:29px">
 <div class="hd">Exploitation</div>
 <div class="sub">Mineral supply and climatope risks</div>
 <div class="li" style="left:52px;top:72.5px">Waste recycling and reutilization</div>
 <div class="li" style="left:52px;top:103.5px">High performance material</div>
 <div class="li" style="left:52px;top:134.5px">Life-cycle and material flow analysis</div>
</div>
<div class="card" style="left:460px;width:349px">
 <div class="hd">Production</div>
 <div class="sub">Intertemporal climate impacts</div>
 <div class="li" style="left:49px;top:73.5px">Multi-time scale variability prediction</div>
 <div class="li" style="left:49px;top:103.5px">Extreme climate warning systems</div>
 <div class="li" style="left:49px;top:134.5px">Heterogeneous sensor collaboration</div>
</div>
<div class="card" style="left:890px;width:349px">
 <div class="hd" style="padding-left:22px">Utilization</div>
 <div class="sub">Variable renewable management</div>
 <div class="li" style="left:69px;top:73.5px">Resource cooperative planning</div>
 <div class="li" style="left:69px;top:103.5px">Transmission and micro grid</div>
 <div class="li" style="left:69px;top:134.5px">Distributed flexible resource</div>
</div>

<svg id="ov" width="1269" height="781" style="position:absolute;left:0;top:0;pointer-events:none">
<!-- big double arrows between cards -->
<g id="da">
 <path d="M377 645 L406 620 L403 633 L451 633 L449 623 L476 646 L447 672 L451 657 L403 657 L406 671Z" fill="#3d5a66" fill-opacity="0.35"/>
 <path d="M369.9 639 L398.3 613.5 L395.5 627.2 L443.2 627.2 L441.3 616.8 L468.7 639.5 L439.4 665.5 L443.2 651.3 L395.5 651.3 L398.3 664.6Z" fill="#0c9fd4" stroke="#fff" stroke-width="1.4" stroke-linejoin="miter"/>
</g>
<use href="#da" x="431.3" y="-0.5"/>

</svg>
<div class="leg" style="left:415px">Information flow</div>
<div class="leg" style="left:634px">Material flow</div>
<div class="leg" style="left:845px">Energy flow</div>

</body></html>
